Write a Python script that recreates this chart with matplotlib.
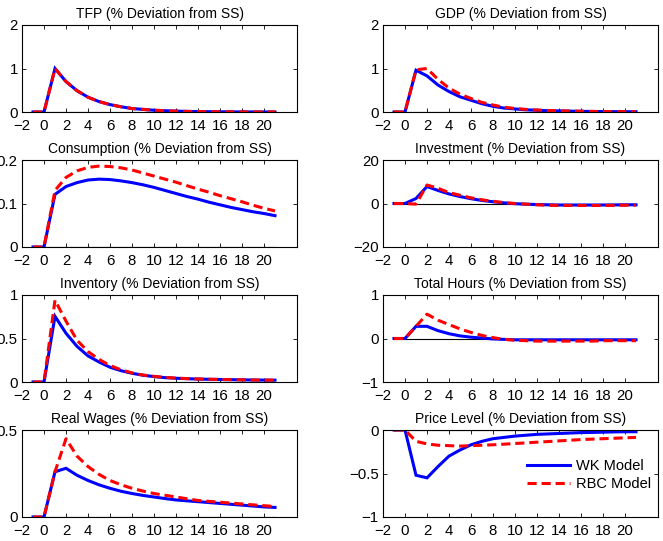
import matplotlib
matplotlib.use("Agg")
import matplotlib.pyplot as plt

plt.rcParams['font.family'] = ['Liberation Sans', 'DejaVu Sans']
plt.rcParams['font.size'] = 10

t = list(range(-1, 22))

titles = ["TFP (% Deviation from SS)", "GDP (% Deviation from SS)",
          "Consumption (% Deviation from SS)", "Investment (% Deviation from SS)",
          "Inventory (% Deviation from SS)", "Total Hours (% Deviation from SS)",
          "Real Wages (% Deviation from SS)", "Price Level (% Deviation from SS)"]

tfp_wk = [0, 0, 1.0, 0.70, 0.49, 0.34, 0.24, 0.17, 0.12, 0.08, 0.06, 0.04, 0.03, 0.02,
          0.014, 0.01, 0.007, 0.005, 0.003, 0.002, 0.002, 0.001, 0.001]
tfp_rbc = list(tfp_wk)

gdp_wk = [0, 0, 0.96, 0.83, 0.62, 0.47, 0.35, 0.27, 0.19, 0.13, 0.09, 0.07, 0.05, 0.04,
          0.03, 0.025, 0.02, 0.015, 0.012, 0.01, 0.008, 0.007, 0.006]
gdp_rbc = [0, 0, 0.97, 1.0, 0.75, 0.55, 0.41, 0.31, 0.22, 0.16, 0.11, 0.08, 0.06, 0.045,
           0.035, 0.028, 0.022, 0.018, 0.014, 0.011, 0.009, 0.008, 0.007]

cons_wk = [0, 0, 0.121, 0.139, 0.148, 0.154, 0.156, 0.155, 0.152, 0.148, 0.143, 0.137,
           0.130, 0.123, 0.116, 0.110, 0.103, 0.097, 0.091, 0.086, 0.081, 0.077, 0.072]
cons_rbc = [0, 0, 0.130, 0.160, 0.175, 0.183, 0.186, 0.185, 0.182, 0.177, 0.170, 0.163,
            0.156, 0.149, 0.141, 0.133, 0.126, 0.118, 0.111, 0.104, 0.096, 0.089, 0.083]

inv_wk = [0, 0, 2.3, 7.8, 6.0, 4.4, 3.2, 2.2, 1.4, 0.8, 0.3, -0.1, -0.3, -0.5, -0.6,
          -0.7, -0.7, -0.7, -0.7, -0.7, -0.65, -0.6, -0.6]
inv_rbc = [0, 0, -0.3, 8.5, 7.0, 5.0, 3.8, 2.6, 1.7, 1.0, 0.4, 0.0, -0.3, -0.6, -0.8,
           -0.9, -0.9, -0.9, -0.9, -0.9, -0.85, -0.8, -0.8]

invt_wk = [0, 0, 0.755, 0.56, 0.41, 0.30, 0.23, 0.17, 0.13, 0.10, 0.078, 0.062, 0.05,
           0.043, 0.038, 0.034, 0.031, 0.029, 0.027, 0.025, 0.023, 0.022, 0.021]
invt_rbc = [0, 0, 0.94, 0.70, 0.48, 0.35, 0.26, 0.19, 0.14, 0.105, 0.08, 0.065, 0.053,
            0.045, 0.039, 0.035, 0.032, 0.029, 0.027, 0.025, 0.023, 0.022, 0.021]

hours_wk = [0, 0, 0.28, 0.28, 0.18, 0.11, 0.06, 0.03, 0.01, -0.01, -0.02, -0.03, -0.03,
            -0.03, -0.03, -0.03, -0.03, -0.03, -0.03, -0.03, -0.03, -0.03, -0.03]
hours_rbc = [0, 0, 0.28, 0.56, 0.42, 0.32, 0.22, 0.14, 0.07, 0.02, -0.02, -0.04, -0.05,
             -0.06, -0.06, -0.06, -0.06, -0.06, -0.06, -0.05, -0.05, -0.05, -0.05]

wage_wk = [0, 0, 0.26, 0.28, 0.24, 0.21, 0.185, 0.165, 0.148, 0.135, 0.124, 0.115, 0.106,
           0.098, 0.093, 0.088, 0.083, 0.078, 0.073, 0.068, 0.063, 0.058, 0.055]
wage_rbc = [0, 0, 0.26, 0.45, 0.35, 0.29, 0.245, 0.21, 0.185, 0.165, 0.149, 0.135, 0.125,
            0.115, 0.105, 0.095, 0.09, 0.085, 0.08, 0.075, 0.07, 0.065, 0.06]

price_wk = [0, 0, -0.52, -0.55, -0.42, -0.30, -0.23, -0.17, -0.13, -0.10, -0.085, -0.07,
            -0.06, -0.05, -0.045, -0.04, -0.035, -0.03, -0.028, -0.025, -0.022, -0.02, -0.02]
price_rbc = [0, 0, -0.13, -0.16, -0.175, -0.18, -0.185, -0.18, -0.175, -0.17, -0.163,
             -0.155, -0.148, -0.14, -0.133, -0.125, -0.118, -0.11, -0.105, -0.1, -0.095,
             -0.09, -0.085]

wk_series = [tfp_wk, gdp_wk, cons_wk, inv_wk, invt_wk, hours_wk, wage_wk, price_wk]
rbc_series = [tfp_rbc, gdp_rbc, cons_rbc, inv_rbc, invt_rbc, hours_rbc, wage_rbc, price_rbc]

ylims = [(0, 2), (0, 2), (0, 0.2), (-20, 20), (0, 1), (-1, 1), (0, 0.5), (-1, 0)]
yticks = [[0, 1, 2], [0, 1, 2], [0, 0.1, 0.2], [-20, 0, 20], [0, 0.5, 1], [-1, 0, 1],
          [0, 0.5], [-1, -0.5, 0]]
ytlabels = [["0", "1", "2"], ["0", "1", "2"], ["0", "0.1", "0.2"], ["\u221220", "0", "20"],
            ["0", "0.5", "1"], ["\u22121", "0", "1"], ["0", "0.5"], ["\u22121", "\u22120.5", "0"]]
xticks = list(range(-2, 21, 2))
xtlabels = [("\u2212" + str(-v)) if v < 0 else str(v) for v in xticks]

fig = plt.figure(figsize=(6.63, 5.41), dpi=100)

W, H = 663, 541
lefts = [22, 383]
tops = [25, 160, 295, 430]
aw, ah = 275, 87

for i in range(8):
    r, c = divmod(i, 2)
    ax = fig.add_axes([lefts[c] / W, 1 - (tops[r] + ah) / H, aw / W, ah / H])
    ax.plot([-1, 21], [0, 0], color='black', lw=0.8)
    l1, = ax.plot(t, wk_series[i], color='#0000ff', lw=2.2, solid_joinstyle='miter')
    l2, = ax.plot(t, rbc_series[i], color='#ff0000', lw=2.2, dashes=(3, 1.6))
    ax.set_xlim(-2, 23)
    ax.set_ylim(*ylims[i])
    ax.set_xticks(xticks)
    ax.set_xticklabels(xtlabels)
    ax.set_yticks(yticks[i])
    ax.set_yticklabels(ytlabels[i])
    ax.tick_params(direction='in', top=True, right=True, length=3, width=0.6,
                   labelsize=10.8)
    ax.tick_params(axis='x', pad=5)
    ax.tick_params(axis='y', pad=3)
    for s in ax.spines.values():
        s.set_linewidth(0.8)
    ax.set_title(titles[i], fontsize=10, pad=5)
    if i == 7:
        ax.legend([l1, l2], ["WK Model", "RBC Model"], loc='center left',
                  bbox_to_anchor=(0.524, 0.483), frameon=False, fontsize=10.5,
                  handlelength=2.95, handletextpad=0.4, labelspacing=0.25,
                  borderpad=0, borderaxespad=0)

fig.savefig("out.png", dpi=100)
